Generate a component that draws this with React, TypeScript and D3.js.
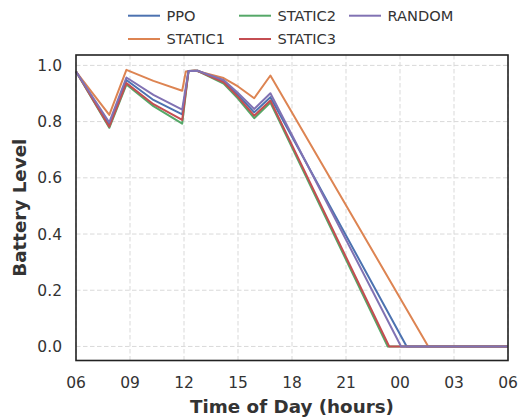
import React, { useRef, useEffect } from "react";
import * as d3 from "d3";

// Series data (hour of day, battery level)
const seriesNames = ["PPO", "STATIC1", "STATIC2", "STATIC3", "RANDOM"];
const seriesColors = ["#4c72b0", "#dd8452", "#55a868", "#c44e52", "#8172b3"];

const ppoHours = [6, 7.85, 8.8, 10.3, 11.9, 12.25, 12.75, 14.2, 15.0, 15.9, 16.8, 24.37, 30];
const ppoLevels = [0.978, 0.79, 0.948, 0.877, 0.826, 0.98, 0.981, 0.944, 0.895, 0.833, 0.887, 0, 0];

const static1Hours = [6, 7.85, 8.8, 10.3, 11.9, 12.1, 12.6, 14.2, 15.0, 15.9, 16.8, 25.57, 30];
const static1Levels = [0.978, 0.824, 0.984, 0.945, 0.91, 0.978, 0.982, 0.955, 0.925, 0.883, 0.964, 0, 0];

const static2Hours = [6, 7.85, 8.8, 10.3, 11.9, 12.25, 12.75, 14.2, 15.0, 15.9, 16.8, 23.32, 30];
const static2Levels = [0.978, 0.778, 0.932, 0.855, 0.793, 0.98, 0.981, 0.935, 0.882, 0.812, 0.868, 0, 0];

const static3Hours = [6, 7.85, 8.8, 10.3, 11.9, 12.25, 12.75, 14.2, 15.0, 15.9, 16.8, 23.4, 30];
const static3Levels = [0.978, 0.782, 0.937, 0.862, 0.806, 0.98, 0.981, 0.94, 0.888, 0.821, 0.875, 0, 0];

const randomHours = [6, 7.85, 8.8, 10.3, 11.9, 12.25, 12.75, 14.2, 15.0, 15.9, 16.8, 24.06, 30];
const randomLevels = [0.978, 0.797, 0.957, 0.895, 0.843, 0.98, 0.981, 0.948, 0.902, 0.845, 0.901, 0, 0];

const xTicks = [6, 9, 12, 15, 18, 21, 24, 27, 30];
const xTickLabels = ["06", "09", "12", "15", "18", "21", "00", "03", "06"];
const yTicks = [0, 0.2, 0.4, 0.6, 0.8, 1.0];

const App = () => {
  const svgRef = useRef(null);
  const width = 518;
  const height = 417;

  useEffect(() => {
    document.body.style.margin = "0";
    const margin = { top: 55, right: 10, bottom: 56.5, left: 76 };
    const font = "'DejaVu Sans', sans-serif";

    const series = [
      { hours: ppoHours, levels: ppoLevels },
      { hours: static1Hours, levels: static1Levels },
      { hours: static2Hours, levels: static2Levels },
      { hours: static3Hours, levels: static3Levels },
      { hours: randomHours, levels: randomLevels },
    ].map((s, i) => ({
      name: seriesNames[i],
      color: seriesColors[i],
      points: s.hours.map((h, j) => ({ h, v: s.levels[j] })),
    }));

    const xScale = d3
      .scaleLinear()
      .domain([6, 30])
      .range([margin.left, width - margin.right]);
    const yScale = d3
      .scaleLinear()
      .domain([-0.05, 1.037])
      .range([height - margin.bottom, margin.top]);

    const svg = d3.select(svgRef.current);
    svg.selectAll("*").remove();

    // grid
    const grid = svg.append("g");
    grid
      .selectAll("line.v")
      .data(xTicks)
      .join("line")
      .attr("x1", (d) => xScale(d))
      .attr("x2", (d) => xScale(d))
      .attr("y1", margin.top)
      .attr("y2", height - margin.bottom)
      .attr("stroke", "#d9d9d9")
      .attr("stroke-width", 1)
      .attr("stroke-dasharray", "4.5,2.5");
    grid
      .selectAll("line.h")
      .data(yTicks)
      .join("line")
      .attr("x1", margin.left)
      .attr("x2", width - margin.right)
      .attr("y1", (d) => yScale(d))
      .attr("y2", (d) => yScale(d))
      .attr("stroke", "#d9d9d9")
      .attr("stroke-width", 1)
      .attr("stroke-dasharray", "4.5,2.5");

    // lines
    const line = d3
      .line()
      .x((d) => xScale(d.h))
      .y((d) => yScale(d.v));

    svg
      .append("g")
      .selectAll("path")
      .data(series)
      .join("path")
      .attr("fill", "none")
      .attr("stroke", (d) => d.color)
      .attr("stroke-width", 2)
      .attr("stroke-linejoin", "round")
      .attr("d", (d) => line(d.points));

    // frame
    svg
      .append("rect")
      .attr("x", margin.left)
      .attr("y", margin.top)
      .attr("width", width - margin.left - margin.right)
      .attr("height", height - margin.top - margin.bottom)
      .attr("fill", "none")
      .attr("stroke", "#222")
      .attr("stroke-width", 1.6);

    // x tick labels
    svg
      .append("g")
      .selectAll("text")
      .data(xTicks)
      .join("text")
      .attr("x", (d) => xScale(d))
      .attr("y", height - margin.bottom + 27)
      .attr("text-anchor", "middle")
      .style("font-family", font)
      .style("font-size", "15.5px")
      .attr("fill", "#333")
      .text((d, i) => xTickLabels[i]);

    // y tick labels
    svg
      .append("g")
      .selectAll("text")
      .data(yTicks)
      .join("text")
      .attr("x", margin.left - 14)
      .attr("y", (d) => yScale(d))
      .attr("dy", "0.36em")
      .attr("text-anchor", "end")
      .style("font-family", font)
      .style("font-size", "15.5px")
      .attr("fill", "#333")
      .text((d) => d3.format(".1f")(d));

    // axis labels
    svg
      .append("text")
      .attr("x", (margin.left + width - margin.right) / 2)
      .attr("y", 413)
      .attr("text-anchor", "middle")
      .style("font-family", font)
      .style("font-size", "18.3px")
      .style("font-weight", "bold")
      .attr("fill", "#333")
      .text("Time of Day (hours)");

    svg
      .append("text")
      .attr("transform", `translate(26,${(margin.top + height - margin.bottom) / 2}) rotate(-90)`)
      .attr("text-anchor", "middle")
      .style("font-family", font)
      .style("font-size", "18.3px")
      .style("font-weight", "bold")
      .attr("fill", "#333")
      .text("Battery Level");

    // legend (3 columns, matplotlib column-major order)
    const colX = [128, 239, 349];
    const rowY = [15.7, 39];
    const legend = svg
      .append("g")
      .selectAll("g")
      .data(series)
      .join("g")
      .attr("transform", (d, i) => `translate(${colX[Math.floor(i / 2)]},${rowY[i % 2]})`);
    legend
      .append("line")
      .attr("x1", 0)
      .attr("x2", 32)
      .attr("stroke", (d) => d.color)
      .attr("stroke-width", 2);
    legend
      .append("text")
      .attr("x", 38.5)
      .attr("dy", "0.36em")
      .style("font-family", font)
      .style("font-size", "14.6px")
      .attr("fill", "#333")
      .text((d) => d.name);
  }, []);

  return (
    <div>
      <svg ref={svgRef} width={width} height={height} style={{ display: "block", background: "#fff" }}></svg>
    </div>
  );
};

export default App;
